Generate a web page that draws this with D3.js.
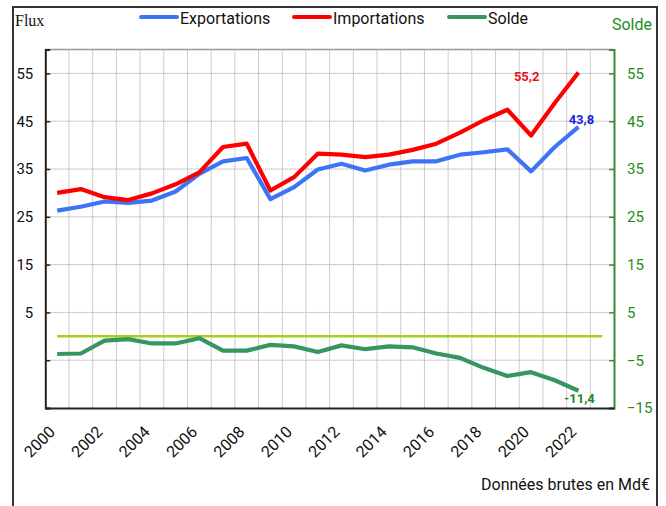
<!DOCTYPE html>
<html>
<head>
<meta charset="utf-8">
<script src="https://cdn.jsdelivr.net/npm/d3@7"></script>
<style>
  html, body { margin: 0; padding: 0; background: #fff; }
  svg { display: block; font-family: Roboto, "Liberation Sans", Arial, sans-serif; }
</style>
</head>
<body>
<svg id="chart" width="666" height="506"></svg>
<script>
// ---- Data (Md€) ----
const years = d3.range(2000, 2024);            // category slots on the x axis
const dataYears = d3.range(2000, 2023);        // years with values
const exportations = [26.3, 27.1, 28.2, 27.9, 28.4, 30.3, 34.0, 36.6, 37.3, 28.7, 31.2, 34.9, 36.1, 34.7, 35.9, 36.6, 36.6, 38.0, 38.5, 39.1, 34.5, 39.6, 43.8];
const importations = [30.0, 30.8, 29.1, 28.5, 29.9, 31.8, 34.3, 39.6, 40.3, 30.5, 33.3, 38.2, 38.0, 37.5, 38.0, 39.0, 40.3, 42.6, 45.2, 47.4, 42.0, 48.8, 55.2];
const solde = [-3.7, -3.6, -0.9, -0.6, -1.5, -1.5, -0.4, -3.0, -3.0, -1.8, -2.1, -3.3, -1.9, -2.7, -2.1, -2.3, -3.6, -4.5, -6.6, -8.3, -7.5, -9.2, -11.4];
const yTicks = [-15, -5, 5, 15, 25, 35, 45, 55];
const xTickYears = d3.range(2000, 2023, 2);
const seriesNames = ["Exportations", "Importations", "Solde"];
const lastLabels = ["43,8", "55,2", "-11,4"];

const svg = d3.select("#chart");
const pLeft = 45.3, pRight = 614, pTop = 49.5, pBottom = 408;

const x = d3.scaleBand().domain(years).range([pLeft, pRight]).padding(0);
const y = d3.scaleLinear().domain([-15, 60]).range([pBottom, pTop]);
const cx = d => x(d) + x.bandwidth() / 2;

// outer frame
svg.append("rect").attr("x", 13).attr("y", 7).attr("width", 644).attr("height", 520)
  .attr("fill", "none").attr("stroke", "#333").attr("stroke-width", 2);

// grid
const grid = svg.append("g");
grid.selectAll("line.h").data(yTicks.filter(v => v > -15)).join("line").attr("class", "h")
  .attr("x1", pLeft).attr("x2", pRight).attr("y1", d => y(d)).attr("y2", d => y(d))
  .attr("stroke", "#999").attr("stroke-width", 1).attr("stroke-dasharray", "1,1");
grid.selectAll("line.v").data(years.slice(1)).join("line").attr("class", "v")
  .attr("x1", d => x(d)).attr("x2", d => x(d)).attr("y1", pTop).attr("y2", pBottom)
  .attr("stroke", "#999").attr("stroke-width", 1).attr("stroke-dasharray", "1,1");

// plot top border
svg.append("line").attr("x1", pLeft).attr("x2", pRight).attr("y1", pTop).attr("y2", pTop)
  .attr("stroke", "#999").attr("stroke-width", 1.5);

// left axis
const gl = svg.append("g").attr("transform", `translate(${pLeft},0)`)
  .call(d3.axisLeft(y).tickValues(yTicks).tickSize(-5).tickPadding(12)
    .tickFormat(d => d >= 5 ? d : ""));
gl.select(".domain").attr("stroke", "#222").attr("stroke-width", 2);
gl.selectAll(".tick line").attr("stroke", "#222").attr("stroke-width", 1.5);
gl.selectAll(".tick text").attr("font-size", 15).attr("font-family", "Roboto").attr("fill", "#111");

// right axis
const gr = svg.append("g").attr("transform", `translate(${pRight},0)`)
  .call(d3.axisRight(y).tickValues(yTicks).tickSize(-5).tickPadding(13));
gr.select(".domain").attr("stroke", "#3a8a3a").attr("stroke-width", 2);
gr.selectAll(".tick line").attr("stroke", "#3a8a3a").attr("stroke-width", 1.5);
gr.selectAll(".tick text").attr("font-size", 15).attr("font-family", "Roboto").attr("fill", "#1e8c1e");

// bottom axis
const gb = svg.append("g").attr("transform", `translate(0,${pBottom})`)
  .call(d3.axisBottom(x).tickValues(xTickYears).tickSize(0));
gb.select(".domain").attr("stroke", "#222").attr("stroke-width", 2);
gb.selectAll(".tick text")
  .attr("font-size", 16).attr("font-family", "Roboto").attr("fill", "#111")
  .attr("text-anchor", "end").attr("x", 0).attr("y", 0).attr("dy", 0)
  .attr("transform", "translate(-1,25) rotate(-45)");

// zero line
svg.append("line").attr("x1", cx(years[0])).attr("x2", cx(years[years.length - 1]))
  .attr("y1", y(0)).attr("y2", y(0)).attr("stroke", "#a6cf1e").attr("stroke-width", 2.5);

// series lines
const colors = ["#3d74f5", "#ff0000", "#35975f"];
const seriesData = [exportations, importations, solde];
const line = d3.line().x((d, i) => cx(dataYears[i])).y(d => y(d));
svg.append("g").selectAll("path").data(seriesData).join("path")
  .attr("d", d => line(d)).attr("fill", "none")
  .attr("stroke", (d, i) => colors[i]).attr("stroke-width", 4.2)
  .attr("stroke-linejoin", "round");

// end labels
const lastYear = dataYears[dataYears.length - 1];
const labelColors = ["#1f1fe0", "#ee1111", "#1a8a1a"];
const labelOffsets = [[3, -3, "middle"], [-39, 9, "end"], [1, 12, "middle"]];
svg.append("g").selectAll("text").data(seriesData).join("text")
  .attr("x", (d, i) => cx(lastYear) + labelOffsets[i][0])
  .attr("y", (d, i) => y(d[d.length - 1]) + labelOffsets[i][1])
  .attr("text-anchor", (d, i) => labelOffsets[i][2])
  .attr("font-size", 13).attr("font-weight", "bold").attr("font-family", "Roboto")
  .attr("fill", (d, i) => labelColors[i])
  .text((d, i) => lastLabels[i]);

// legend
const legendX = [141, 294, 449];
const leg = svg.append("g").selectAll("g").data(seriesNames).join("g")
  .attr("transform", (d, i) => `translate(${legendX[i]},0)`);
leg.append("line").attr("x1", 0).attr("x2", 36).attr("y1", 17).attr("y2", 17)
  .attr("stroke", (d, i) => colors[i]).attr("stroke-width", 4).attr("stroke-linecap", "round");
leg.append("text").attr("x", 39).attr("y", 24).attr("font-size", 16).attr("font-family", "Roboto")
  .attr("fill", "#111").text(d => d);

// titles
svg.append("text").attr("x", 15).attr("y", 26).attr("font-family", "Liberation Serif, serif")
  .attr("font-size", 16).attr("fill", "#111").text("Flux");
svg.append("text").attr("x", 652).attr("y", 30).attr("text-anchor", "end")
  .attr("font-size", 16).attr("font-family", "Roboto").attr("fill", "#1e8c1e").text("Solde");
svg.append("text").attr("x", 650).attr("y", 490).attr("text-anchor", "end")
  .attr("font-size", 16).attr("font-family", "Roboto").attr("fill", "#111").text("Données brutes en Md€");
</script>
</body>
</html>
